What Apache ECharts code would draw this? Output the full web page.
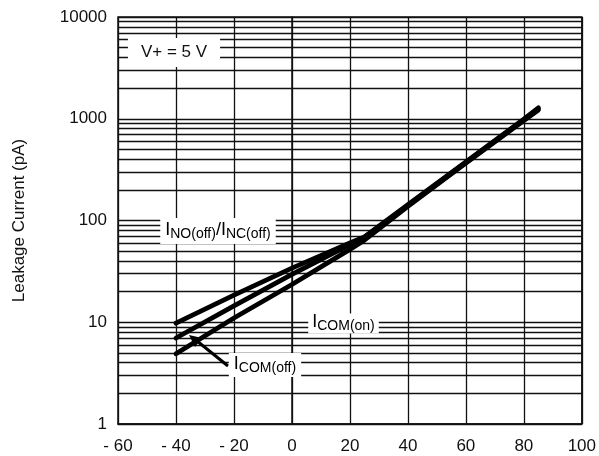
<!DOCTYPE html>
<html>
<head>
<meta charset="utf-8">
<script src="https://cdn.jsdelivr.net/npm/echarts@6/dist/echarts.min.js"></script>
<style>html,body{margin:0;padding:0;background:#fff}#c{width:599px;height:456px}</style>
</head>
<body>
<div id="c"></div>
<script>
// ---- data ----
const temps = [-40, -20, 0, 20, 25, 40, 60, 80, 85];
const inoOff = [9.8, 18.5, 34, 60, 69, 143, 376, 990, 1280];
const icomOn = [7.0, 14.5, 29.5, 58, 68, 141, 372, 975, 1250];
const icomOff = [4.9, 11, 23.5, 52, 64, 138, 366, 960, 1220];
const xTicks = [-60, -40, -20, 0, 20, 40, 60, 80, 100];
const yTicks = [1, 10, 100, 1000, 10000];
const minorGrid = [2, 3, 4, 5, 6, 7, 8, 9,
  20, 30, 40, 50, 60, 70, 80, 90,
  200, 300, 400, 500, 600, 700, 800, 900,
  2000, 3000, 4000, 5000, 6000, 7000, 8000, 9000];

const FONT = 'Liberation Sans';
const pair = (xs, ys) => xs.map((x, i) => [x, ys[i]]);
const curveStyle = { color: '#000', width: 4.8, cap: 'round', join: 'round' };

const chart = echarts.init(document.getElementById('c'), null, { renderer: 'canvas' });

const subRich = {
  I: { fontSize: 18, fontFamily: FONT, color: '#000', lineHeight: 20, verticalAlign: 'top' },
  s: { fontSize: 14, fontFamily: FONT, color: '#000', lineHeight: 14, padding: [7, 0, 0, 0], verticalAlign: 'bottom' }
};

chart.setOption({
  animation: false,
  backgroundColor: '#fff',
  grid: { left: 118, right: 17, top: 17, bottom: 32, show: true, borderColor: '#111', borderWidth: 1.5, backgroundColor: 'transparent' },
  xAxis: {
    type: 'value', min: xTicks[0], max: xTicks[xTicks.length - 1], interval: 20,
    axisLine: { show: true, lineStyle: { color: '#111', width: 1.5 } },
    axisTick: { show: false },
    splitLine: { show: true, lineStyle: { color: '#111', width: 1.3 } },
    axisLabel: {
      fontFamily: FONT, fontSize: 17, color: '#111', margin: 14,
      formatter: v => (v < 0 ? '- ' + Math.abs(v) : String(v))
    }
  },
  yAxis: {
    type: 'log', logBase: 10, min: yTicks[0], max: yTicks[yTicks.length - 1],
    name: 'Leakage Current (pA)', nameLocation: 'middle', nameGap: 90,
    nameTextStyle: { fontFamily: FONT, fontSize: 17, color: '#111' },
    axisLine: { show: true, lineStyle: { color: '#111', width: 1.5 } },
    axisTick: { show: false },
    splitLine: { show: true, lineStyle: { color: '#111', width: 1.3 } },
    axisLabel: { fontFamily: FONT, fontSize: 17, color: '#111', margin: 11, formatter: v => String(v) }
  },
  series: [
    {
      name: 'grid', type: 'line', z: 1, data: [[-60, 1]], showSymbol: false, symbol: 'none',
      lineStyle: { opacity: 0 }, silent: true,
      markLine: {
        silent: true, symbol: ['none', 'none'], label: { show: false },
        lineStyle: { color: '#111', width: 1.3, type: 'solid' },
        emphasis: { disabled: true },
        data: minorGrid.map(v => ({ yAxis: v }))
      }
    },
    { name: 'INO(off)/INC(off)', type: 'line', z: 5, data: pair(temps, inoOff), symbol: 'none', lineStyle: curveStyle },
    { name: 'ICOM(on)', type: 'line', z: 5, data: pair(temps, icomOn), symbol: 'none', lineStyle: curveStyle },
    { name: 'ICOM(off)', type: 'line', z: 5, data: pair(temps, icomOff), symbol: 'none', lineStyle: curveStyle }
  ],
  graphic: [
    {
      type: 'text', z: 100, x: 174, y: 52.5,
      style: { text: 'V+ = 5 V', fontFamily: FONT, fontSize: 17, fill: '#111', align: 'center', verticalAlign: 'middle',
        backgroundColor: '#fff', padding: [6, 13, 6, 13] }
    },
    {
      type: 'text', z: 100, x: 218, y: 231,
      style: { text: '{I|I}{s|NO(off)}{I|/I}{s|NC(off)}', rich: subRich, align: 'center', verticalAlign: 'middle',
        backgroundColor: '#fff', padding: [3, 5, 3, 5] }
    },
    {
      type: 'text', z: 100, x: 343.5, y: 323.5,
      style: { text: '{I|I}{s|COM(on)}', rich: subRich, align: 'center', verticalAlign: 'middle',
        backgroundColor: '#fff', padding: [0, 4, 0, 4] }
    },
    {
      type: 'text', z: 100, x: 265, y: 365,
      style: { text: '{I|I}{s|COM(off)}', rich: subRich, align: 'center', verticalAlign: 'middle',
        backgroundColor: '#fff', padding: [2, 5, 2, 5] }
    },
    {
      type: 'line', z: 90,
      shape: { x1: 228, y1: 366, x2: 197, y2: 341 },
      style: { stroke: '#000', lineWidth: 3 }
    },
    {
      type: 'polygon', z: 90,
      shape: { points: [[189, 335], [202, 338], [195, 347]] },
      style: { fill: '#000' }
    }
  ]
});
</script>
</body>
</html>
